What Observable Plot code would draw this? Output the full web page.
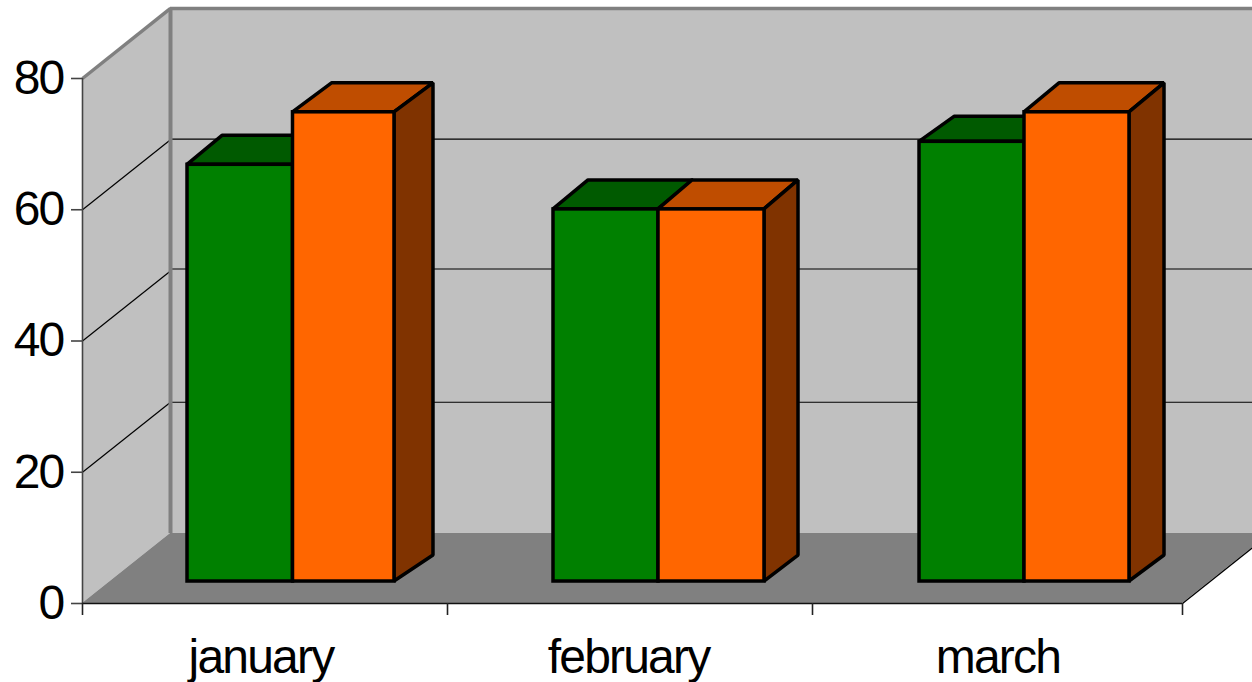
<!DOCTYPE html>
<html>
<head>
<meta charset="utf-8">
<script src="https://cdn.jsdelivr.net/npm/d3@7"></script>
<script src="https://cdn.jsdelivr.net/npm/@observablehq/plot@0.6"></script>
<style>
html,body{margin:0;padding:0;background:#fff;overflow:hidden}
svg{display:block}
svg text{letter-spacing:-1.8px}
</style>
</head>
<body>
<div id="chart"></div>
<script>
// Values
const categories = ["january", "february", "march"];
const greenValues = [63.5, 56.7, 67];
const orangeValues = [71.5, 56.7, 71.5];
const yTicks = [0, 20, 40, 60, 80];
const gridValues = [20, 40.3, 60.1];

// Bar edges, in category units along the x axis
const greenLeft = [0.2877, 1.2904, 2.2932];
const seamX = [0.5767, 1.5781, 2.5808];
const orangeRight = [0.8548, 1.8685, 2.8685];
const labelX = [0.489, 1.496, 2.508];

// Depth of the bars and of the box, in scale units
const greenDepthX = 0.0959;
const orangeDepthX = [0.1068, 0.0932, 0.0959];
const greenDepthY = [4.42, 4.42, 3.81];
const orangeDepthY = 4.42;
const baseDepthY = 3.96;
const baseShiftY = 3.35;
const wallDX = 0.2411;
const wallDY = 10.67;
const xEnd = 3.0137;

const idx = categories.map((_, i) => i);
const topFace = (left, right, val, dx, dy, i) => [
  {bar: i, x1: left, x2: right, y: val + baseShiftY},
  {bar: i, x1: left + dx, x2: right + dx, y: val + baseShiftY + dy}
];
const greenTops = idx.flatMap(i => topFace(greenLeft[i], seamX[i], greenValues[i], greenDepthX, greenDepthY[i], i));
const orangeTops = idx.flatMap(i => topFace(seamX[i], orangeRight[i], orangeValues[i], orangeDepthX[i], orangeDepthY, i));
const orangeSides = idx.flatMap(i => [
  {bar: i, x: orangeRight[i], y1: baseShiftY, y2: orangeValues[i] + baseShiftY},
  {bar: i, x: orangeRight[i] + orangeDepthX[i], y1: baseShiftY + baseDepthY, y2: orangeValues[i] + baseShiftY + orangeDepthY}
]);
const greenFronts = idx.map(i => ({x1: greenLeft[i], x2: seamX[i], y2: greenValues[i] + baseShiftY}));
const orangeFronts = idx.map(i => ({x1: seamX[i], x2: orangeRight[i], y2: orangeValues[i] + baseShiftY}));

const barStyle = {stroke: "#000", strokeWidth: 3.5, strokeLinejoin: "miter"};
const chart = Plot.plot({
  width: 1252, height: 682,
  marginLeft: 82, marginRight: 70, marginTop: 78, marginBottom: 79,
  x: {domain: [0, xEnd], axis: null},
  y: {domain: [0, 80], axis: null},
  style: {fontFamily: "'Liberation Sans', Arial, sans-serif", background: "#fff", overflow: "hidden"},
  marks: [
    // back wall
    Plot.rect([0], {x1: wallDX, x2: xEnd + wallDX, y1: wallDY, y2: 80 + wallDY, fill: "#c0c0c0"}),
    // side wall
    Plot.areaY([{x: 0, y1: 0, y2: 80}, {x: wallDX, y1: wallDY, y2: 80 + wallDY}], {x: "x", y1: "y1", y2: "y2", fill: "#c0c0c0"}),
    // floor
    Plot.areaX([{x1: 0, x2: xEnd, y: 0}, {x1: wallDX, x2: xEnd + wallDX, y: wallDY}], {x1: "x1", x2: "x2", y: "y", fill: "#808080"}),
    // grid lines
    Plot.ruleY(gridValues, {y: v => v + wallDY, x1: wallDX, x2: xEnd + wallDX, stroke: "#000", strokeWidth: 1.2}),
    Plot.link(yTicks.filter(v => v > 0 && v < 80), {x1: 0, y1: v => v, x2: wallDX, y2: v => v + wallDY, stroke: "#000", strokeWidth: 1.2}),
    // box edges
    Plot.ruleX([wallDX], {y1: wallDY, y2: 80 + wallDY, stroke: "#808080", strokeWidth: 4}),
    Plot.ruleY([80 + wallDY], {x1: wallDX, x2: xEnd + wallDX, stroke: "#808080", strokeWidth: 3.5}),
    Plot.link([0], {x1: 0, y1: 80, x2: wallDX, y2: 80 + wallDY, stroke: "#808080", strokeWidth: 3.5}),
    Plot.link([0], {x1: xEnd, y1: 0, x2: xEnd + wallDX, y2: wallDY, stroke: "#000", strokeWidth: 1.4}),
    Plot.ruleX([0], {y1: 0, y2: 80, stroke: "#444", strokeWidth: 1.6}),
    Plot.ruleY([0], {x1: 0, x2: xEnd, stroke: "#111", strokeWidth: 1.6}),
    // bars
    Plot.areaX(greenTops, {x1: "x1", x2: "x2", y: "y", z: "bar", fill: "#005a00", ...barStyle}),
    Plot.rect(greenFronts, {x1: "x1", x2: "x2", y1: baseShiftY, y2: "y2", fill: "#008000", ...barStyle}),
    Plot.areaX(orangeTops, {x1: "x1", x2: "x2", y: "y", z: "bar", fill: "#bf4d00", ...barStyle}),
    Plot.areaY(orangeSides, {x: "x", y1: "y1", y2: "y2", z: "bar", fill: "#803300", ...barStyle}),
    Plot.rect(orangeFronts, {x1: "x1", x2: "x2", y1: baseShiftY, y2: "y2", fill: "#ff6600", ...barStyle}),
    // axes
    Plot.axisY({ticks: yTicks, anchor: "left", label: null, tickSize: 11, tickPadding: 8, fontSize: 48, stroke: "#444", fill: "#000", strokeWidth: 1.6}),
    Plot.axisX({ticks: [0, 1, 2, xEnd], anchor: "bottom", label: null, tickSize: 12, tickFormat: () => "", stroke: "#222", strokeWidth: 1.6}),
    Plot.text(categories, {x: (_, i) => labelX[i], y: -8.2, text: d => d, fontSize: 48, fill: "#000", textAnchor: "middle"})
  ]
});
document.getElementById("chart").append(chart);
</script>
</body>
</html>
